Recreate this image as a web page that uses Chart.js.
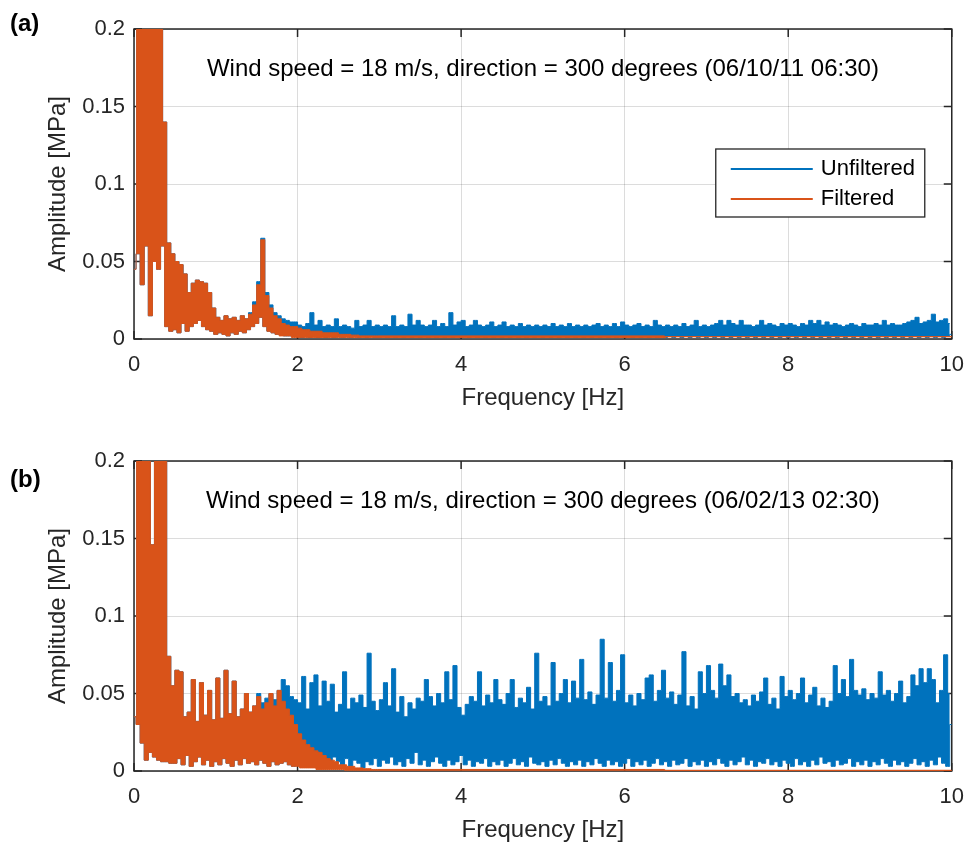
<!DOCTYPE html>
<html>
<head>
<meta charset="utf-8">
<script src="https://cdn.jsdelivr.net/npm/chart.js@4.4.1/dist/chart.umd.min.js"></script>
<style>
  body { margin: 0; background: #fff; }
  canvas { position: absolute; left: 0; }
</style>
</head>
<body>
<canvas id="panelA" width="977" height="418" style="top:0"></canvas>
<canvas id="panelB" width="977" height="418" style="top:432px"></canvas>
<script>
// spectra sampled every 0.025 Hz from 0 Hz, amplitudes in kPa (1e-3 MPa)
// samples alternate: even index = trough of the noise band, odd index = crest
const freqStep = 0.025;
const xTicks = [0, 2, 4, 6, 8, 10];
const yTicks = [0, 0.05, 0.1, 0.15, 0.2];

const noteA = 'Wind speed = 18 m/s, direction = 300 degrees (06/10/11 06:30)';
const noteB = 'Wind speed = 18 m/s, direction = 300 degrees (06/02/13 02:30)';

// (a) 06/10/11
const unfilteredA = [
  45,260,55,300,35,280,60,240,15,320,50,260,45,230,60,140,8,62,5,55,
  6,50,4,48,10,42,5,30,8,36,10,38,12,37,8,36,6,30,5,20,
  3,14,4,12,3,15,2,13,4,14,3,12,5,15,4,13,6,17,8,24,
  10,37,14,65,8,30,5,22,4,17,3,15,3,13,2,12,2,11,2,11,
  2,9,1,8,2,10,1,17,2,9,1,12,2,8,1,9,2,8,1,13,
  2,8,1,9,2,8,1,7,2,12,1,8,2,9,1,12,2,8,1,9,
  1,8,2,9,1,8,2,15,1,8,2,9,1,8,2,16,1,9,2,12,
  1,9,2,8,1,9,2,12,1,8,2,10,1,8,2,17,1,9,2,11,
  1,12,2,8,1,9,2,12,1,9,2,8,1,9,2,11,1,8,2,9,
  1,11,2,8,1,9,2,8,1,10,2,8,1,9,2,8,1,9,2,8,
  1,9,2,8,1,10,2,8,1,9,2,8,1,10,2,8,1,9,2,8,
  1,9,2,8,1,9,2,10,1,8,2,9,1,8,2,10,1,8,2,11,
  1,9,2,8,1,9,2,10,1,8,2,9,1,8,2,12,1,9,2,8,
  1,9,2,8,1,9,2,8,1,10,2,8,1,9,2,12,1,8,2,9,
  1,8,2,9,1,10,2,12,1,9,2,12,1,10,2,9,1,12,2,9,
  1,9,2,8,1,9,2,12,1,9,2,10,1,9,2,8,1,10,2,9,
  1,10,2,9,1,8,2,10,1,9,2,12,1,10,2,12,1,9,2,11,
  1,9,2,10,1,9,2,8,1,9,2,10,1,9,2,8,1,10,2,9,
  1,9,2,10,1,9,2,12,1,9,2,10,1,9,2,9,1,10,2,11,
  1,12,2,14,1,10,2,11,1,12,2,16,1,11,2,12,1,13,2,10,
  3
];
const filteredA = [
  45,260,55,300,35,280,60,240,15,320,50,260,45,230,60,140,8,62,5,55,
  6,50,4,48,10,42,5,30,8,36,10,38,12,37,8,36,6,30,5,20,
  3,14,4,12,3,15,2,13,4,14,3,12,5,15,4,13,6,16,8,22,
  10,35,14,64,8,28,5,20,4,15,3,13,2,10,2,9,2,8,1,8,
  1,7,1,6,1,6,1,5,1,5,1,5,1,4,1,4,1,4,1,4,
  1,3,1,3,1,3,1,2.5,1,2.5,1,2,1,2,1,2,1,2,1,2,
  1
];
const filteredTailA = 1.5; // flat level up to 10 Hz

// (b) 06/02/13
const unfilteredB = [
  35,280,30,300,18,260,7,240,12,146,9,280,7,300,6,250,6,74,5,55,
  5,65,8,64,4,35,10,38,3,59,6,32,9,57,4,36,7,52,3,33,
  6,60,4,34,8,65,5,37,3,58,7,35,4,40,8,50,5,38,6,42,
  4,50,7,44,5,47,3,50,6,46,4,52,5,59,6,55,4,48,3,46,
  5,44,3,61,6,40,4,57,8,62,3,42,5,58,7,45,4,56,9,38,
  6,43,4,64,8,40,3,47,7,44,5,49,2,41,6,76,4,45,8,39,
  3,46,7,57,5,42,9,66,4,38,6,48,3,35,8,44,5,40,12,47,
  4,45,7,59,3,48,6,42,9,50,5,44,3,64,7,46,4,68,6,41,
  10,36,4,43,7,48,3,45,6,64,5,42,8,49,3,44,6,59,4,46,
  7,43,3,50,5,59,8,41,4,47,6,44,3,54,9,40,5,76,4,45,
  6,48,3,42,7,70,4,45,8,50,5,59,3,44,6,58,4,47,7,72,
  3,46,6,51,4,43,8,49,5,85,3,47,7,70,4,45,6,52,3,75,
  5,44,8,49,3,42,6,50,4,46,7,60,3,62,5,45,8,52,4,65,
  6,47,3,51,7,43,4,49,5,77,8,42,3,48,6,40,4,64,7,50,
  3,68,6,52,4,47,8,69,5,55,3,62,7,48,4,50,6,44,9,46,
  4,42,7,49,3,45,6,51,5,60,8,43,4,47,6,40,3,61,7,48,
  5,52,3,46,8,50,4,60,6,44,3,49,7,54,4,42,9,47,5,41,
  6,45,3,68,7,50,4,59,5,48,8,72,3,52,6,49,4,53,7,46,
  3,50,6,47,4,64,8,49,5,52,3,45,7,50,4,58,6,44,3,48,
  5,62,8,55,4,66,6,57,3,66,7,59,4,44,9,52,5,75,3,50,
  30
];
const filteredB = [
  35,280,30,300,18,260,7,240,12,146,9,280,7,300,6,250,6,74,5,55,
  5,65,8,64,4,35,10,38,3,59,6,32,9,57,4,36,7,52,3,33,
  6,60,4,34,8,65,5,37,3,58,7,35,4,40,8,50,5,38,6,42,
  4,48,7,40,5,44,3,50,6,42,4,52,5,45,6,40,4,36,3,30,
  3,24,2,20,2,17,2,15,2,13,1,12,1,10,1,8,1,7,1,6,
  1,4,1,4,0.5,3,0.5,3,0.5,2,0.5,2,0.5,1.5,0.5,1.5,0.5,1,0.5,1,
  0.5
];
const filteredTailB = 0.4;

const FONT = '"Liberation Sans", Arial, Helvetica, sans-serif';
const INK = '#262626';
const BLUE = '#0072BD';
const ORANGE = '#D95319';

// crest (parity 1) or trough (parity 0) samples of a series
function samples(values, parity, tail) {
  const pts = [];
  values.forEach((v, i) => {
    if (i % 2 === parity) pts.push({ x: i * freqStep, y: v / 1000 });
  });
  if (tail !== undefined) pts.push({ x: 10, y: tail / 1000 });
  return pts;
}

// a noise band: crest line filled down to the trough line
function band(label, values, color, order, tail) {
  const common = {
    borderColor: color,
    backgroundColor: color,
    borderWidth: 1,
    stepped: 'middle',
    pointRadius: 0
  };
  return [
    Object.assign({ label: label, data: samples(values, 1, tail), fill: '+1', order: order }, common),
    Object.assign({ label: '', data: samples(values, 0, tail), fill: false, order: order + 1 }, common)
  ];
}

// MATLAB-like axes: box and inward ticks under the data, note and legend over it
const frame = {
  id: 'frame',
  beforeDatasetsDraw(chart) {
    const { ctx, chartArea: a } = chart;
    const x = chart.scales.x, y = chart.scales.y;
    ctx.save();
    ctx.strokeStyle = INK;
    ctx.lineWidth = 1.5;
    ctx.beginPath();
    xTicks.forEach(v => {
      const px = x.getPixelForValue(v);
      ctx.moveTo(px, a.bottom); ctx.lineTo(px, a.bottom - 8);
      ctx.moveTo(px, a.top); ctx.lineTo(px, a.top + 8);
    });
    yTicks.forEach(v => {
      const py = y.getPixelForValue(v);
      ctx.moveTo(a.left, py); ctx.lineTo(a.left + 8, py);
      ctx.moveTo(a.right, py); ctx.lineTo(a.right - 8, py);
    });
    ctx.stroke();
    ctx.strokeRect(a.left, a.top, a.right - a.left, a.bottom - a.top);
    ctx.restore();
  },
  afterDatasetsDraw(chart, args, o) {
    const { ctx, chartArea: a } = chart;
    const x = chart.scales.x, y = chart.scales.y;
    ctx.save();
    ctx.fillStyle = '#000';
    ctx.font = '24px ' + FONT;
    ctx.textAlign = 'center';
    ctx.textBaseline = 'middle';
    ctx.fillText(o.note, x.getPixelForValue(5), y.getPixelForValue(0.174));

    if (o.legend) {
      const bw = 209, bh = 68;
      const bx = a.right - 27 - bw, by = a.top + 120;
      ctx.fillStyle = '#fff';
      ctx.fillRect(bx, by, bw, bh);
      ctx.lineWidth = 1.3;
      ctx.strokeStyle = INK;
      ctx.strokeRect(bx, by, bw, bh);
      ctx.font = '22px ' + FONT;
      ctx.textAlign = 'left';
      chart.data.datasets.filter(ds => ds.label).forEach((ds, i) => {
        const ly = by + 20 + i * 30;
        ctx.strokeStyle = ds.borderColor;
        ctx.lineWidth = 2;
        ctx.beginPath();
        ctx.moveTo(bx + 15, ly); ctx.lineTo(bx + 97, ly);
        ctx.stroke();
        ctx.fillStyle = '#000';
        ctx.fillText(ds.label, bx + 105, ly);
      });
    }
    ctx.restore();
  },
  afterDraw(chart, args, o) {
    const { ctx, chartArea: a } = chart;
    ctx.save();
    ctx.fillStyle = INK;
    ctx.font = '24px ' + FONT;
    ctx.textAlign = 'center';
    ctx.textBaseline = 'middle';
    ctx.fillText('Frequency [Hz]', (a.left + a.right) / 2, a.bottom + 59);
    ctx.save();
    ctx.translate(58, (a.top + a.bottom) / 2);
    ctx.rotate(-Math.PI / 2);
    ctx.fillText('Amplitude [MPa]', 0, 0);
    ctx.restore();
    ctx.fillStyle = '#000';
    ctx.font = 'bold 24px ' + FONT;
    ctx.textAlign = 'left';
    ctx.fillText(o.tag, 10, o.tagY);
    ctx.restore();
  }
};

function makePanel(id, unfiltered, filtered, tail, note, tag, tagY, legend) {
  const tickFont = { family: FONT, size: 22 };
  const grid = { color: 'rgba(38,38,38,0.16)', drawTicks: false, lineWidth: 1 };
  return new Chart(document.getElementById(id), {
    type: 'line',
    data: {
      datasets: band('Unfiltered', unfiltered, BLUE, 3).concat(band('Filtered', filtered, ORANGE, 1, tail))
    },
    options: {
      responsive: false,
      animation: false,
      events: [],
      layout: { padding: { top: 29, right: 18, left: 0, bottom: 0 } },
      plugins: {
        legend: { display: false },
        tooltip: { enabled: false },
        filler: { propagate: false },
        frame: { note: note, tag: tag, tagY: tagY, legend: legend }
      },
      scales: {
        x: {
          type: 'linear',
          min: 0,
          max: 10,
          afterBuildTicks: s => { s.ticks = xTicks.map(v => ({ value: v })); },
          afterFit: s => { s.height = 79; },
          grid: grid,
          border: { display: false },
          ticks: { font: tickFont, color: INK, padding: 13, maxRotation: 0 }
        },
        y: {
          min: 0,
          max: 0.2,
          afterBuildTicks: s => { s.ticks = yTicks.map(v => ({ value: v })); },
          afterFit: s => { s.width = 134; },
          grid: grid,
          border: { display: false },
          ticks: {
            font: tickFont,
            color: INK,
            padding: 9,
            callback: v => String(+v.toFixed(2))
          }
        }
      }
    },
    plugins: [frame]
  });
}

makePanel('panelA', unfilteredA, filteredA, filteredTailA, noteA, '(a)', 24, true);
makePanel('panelB', unfilteredB, filteredB, filteredTailB, noteB, '(b)', 48, false);
</script>
</body>
</html>
